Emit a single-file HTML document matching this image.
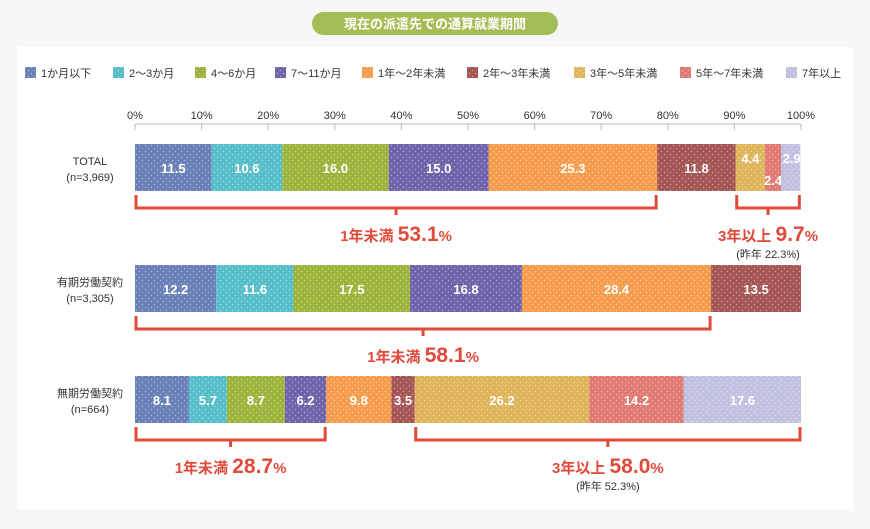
<!DOCTYPE html>
<html><head><meta charset="utf-8">
<style>
body{margin:0;background:#f7f7f7;font-family:"Liberation Sans","Noto Sans CJK JP",sans-serif;}
svg{display:block}
</style></head>
<body>
<svg id="chart" width="870" height="529" viewBox="0 0 870 529">
<defs>
<pattern id="dots" width="6" height="6" patternUnits="userSpaceOnUse"><circle cx="1.5" cy="1.5" r="0.7" fill="#fff" fill-opacity="0.45"/><circle cx="4.5" cy="4.5" r="0.7" fill="#fff" fill-opacity="0.45"/></pattern>
</defs>
<rect x="17" y="47" width="836" height="462" fill="#fff"/>
<rect x="312" y="12" width="246" height="23" rx="11.5" fill="#a5bd55"/>
<text x="435" y="28.5" text-anchor="middle" font-size="13" font-weight="bold" fill="#fff">現在の派遣先での通算就業期間</text>
<g id="legend"></g>
<g id="axis"></g>
<g id="bars"></g>
<g id="notes"></g>
</svg>
<script>
const categories=["TOTAL","有期労働契約","無期労働契約"];
const sampleSizes=["(n=3,969)","(n=3,305)","(n=664)"];
const seriesNames=["1か月以下","2～3か月","4～6か月","7～11か月","1年～2年未満","2年～3年未満","3年～5年未満","5年～7年未満","7年以上"];
const colors=["#6a80b9","#56bec8","#9cb43c","#6f64ac","#f59c4d","#a55654","#dfb55c","#e07a72","#bfc1e0"];
const totalValues=[11.5,10.6,16.0,15.0,25.3,11.8,4.4,2.4,2.9];
const fixedValues=[12.2,11.6,17.5,16.8,28.4,13.5,0,0,0];
const openValues=[8.1,5.7,8.7,6.2,9.8,3.5,26.2,14.2,17.6];
const tickLabels=["0%","10%","20%","30%","40%","50%","60%","70%","80%","90%","100%"];
const tickValues=[0,10,20,30,40,50,60,70,80,90,100];
// bracket groups: [row, fromIndex, toIndex, label, value, sublabel]
const brackets=[[0,0,4,"1年未満","53.1",""],[0,6,8,"3年以上","9.7","(昨年 22.3%)"],[1,0,4,"1年未満","58.1",""],[2,0,3,"1年未満","28.7",""],[2,6,8,"3年以上","58.0","(昨年 52.3%)"]];
const rows=[totalValues,fixedValues,openValues];

const NS="http://www.w3.org/2000/svg";
const X0=135,X1=801;
const xs=v=>X0+(X1-X0)*v/100;
const rowY=[144,265,376],BH=47;
function mk(tag,attrs,parent,text){const e=document.createElementNS(NS,tag);for(const k in attrs)e.setAttribute(k,attrs[k]);if(text!==undefined)e.textContent=text;parent.appendChild(e);return e;}

// legend
const lg=document.getElementById('legend');
const legX=[25,113,195,275,362,467,574,680,786];
seriesNames.forEach((n,i)=>{
 const g=mk('g',{},lg);
 
 
 mk('rect',{x:legX[i],y:67,width:11,height:11,fill:colors[i]},g);
 mk('rect',{x:legX[i],y:67,width:11,height:11,fill:'url(#dots)'},g);
 mk('text',{x:legX[i]+16,y:77,'font-size':11,fill:'#333'},g,n);
});

// axis
const ax=document.getElementById('axis');
const al=mk('line',{x1:X0,x2:X1,y1:124,y2:124,stroke:'#bbb'},ax);


tickValues.forEach((v,i)=>{
 mk('line',{x1:xs(v),x2:xs(v),y1:124,y2:130,stroke:'#bbb'},ax);
 const t=mk('text',{x:xs(v),y:119,'text-anchor':'middle','font-size':11,fill:'#333'},ax,tickLabels[i]);
 
 
});

// bars
const bg=document.getElementById('bars');
rows.forEach((vals,r)=>{
 const lab=mk('text',{x:90,y:rowY[r]+21,'text-anchor':'middle','font-size':11,fill:'#333'},bg,categories[r]);
 
 
 mk('text',{x:90,y:rowY[r]+37,'text-anchor':'middle','font-size':11,fill:'#333'},bg,sampleSizes[r]);
 let acc=0;
 vals.forEach((v,i)=>{
  if(v<=0)return;
  const x=xs(acc),w=xs(acc+v)-xs(acc);
  const b=mk('rect',{x:x,y:rowY[r],width:w,height:BH,fill:colors[i]},bg);
  
  
  mk('rect',{x:x,y:rowY[r],width:w,height:BH,fill:'url(#dots)'},bg);
  let ty=rowY[r]+29,tx=x+w/2;
  if(w<20){ if(i===7){ty=rowY[r]+41;} else if(i===8){ty=rowY[r]+19;tx=x+w/2+1;} }
  else if(r===0&&i===6){ty=rowY[r]+19;}
  const t=mk('text',{x:tx,y:ty,'text-anchor':'middle','font-size':13,'font-weight':'bold',fill:'#fff'},bg,v.toFixed(1));
  
  
  acc+=v;
 });
});

// brackets
const ng=document.getElementById('notes');
brackets.forEach(([r,a,b,lab,val,sub])=>{
 const vals=rows[r];
 let s=0;for(let i=0;i<a;i++)s+=vals[i];
 let e=0;for(let i=0;i<=b;i++)e+=vals[i];
 const x1=xs(s)+1,x2=xs(e)-1,y=rowY[r]+BH+4,mx=(x1+x2)/2;
 const p=mk('path',{d:`M${x1} ${y}V${y+13}H${x2}V${y}M${mx} ${y+13}V${y+20}`,stroke:'#e04a3a','stroke-width':3,fill:'none'},ng);
 
 
 const t=mk('text',{x:mx,y:y+46,'text-anchor':'middle',fill:'#e04a3a','font-weight':'bold'},ng);
 
 
 mk('tspan',{'font-size':15},t,lab+" ");
 mk('tspan',{'font-size':21},t,val);
 mk('tspan',{'font-size':15},t,"%");
 if(sub){mk('text',{x:mx,y:y+63,'text-anchor':'middle','font-size':11,fill:'#333'},ng,sub);}
});
</script>
</body></html>
